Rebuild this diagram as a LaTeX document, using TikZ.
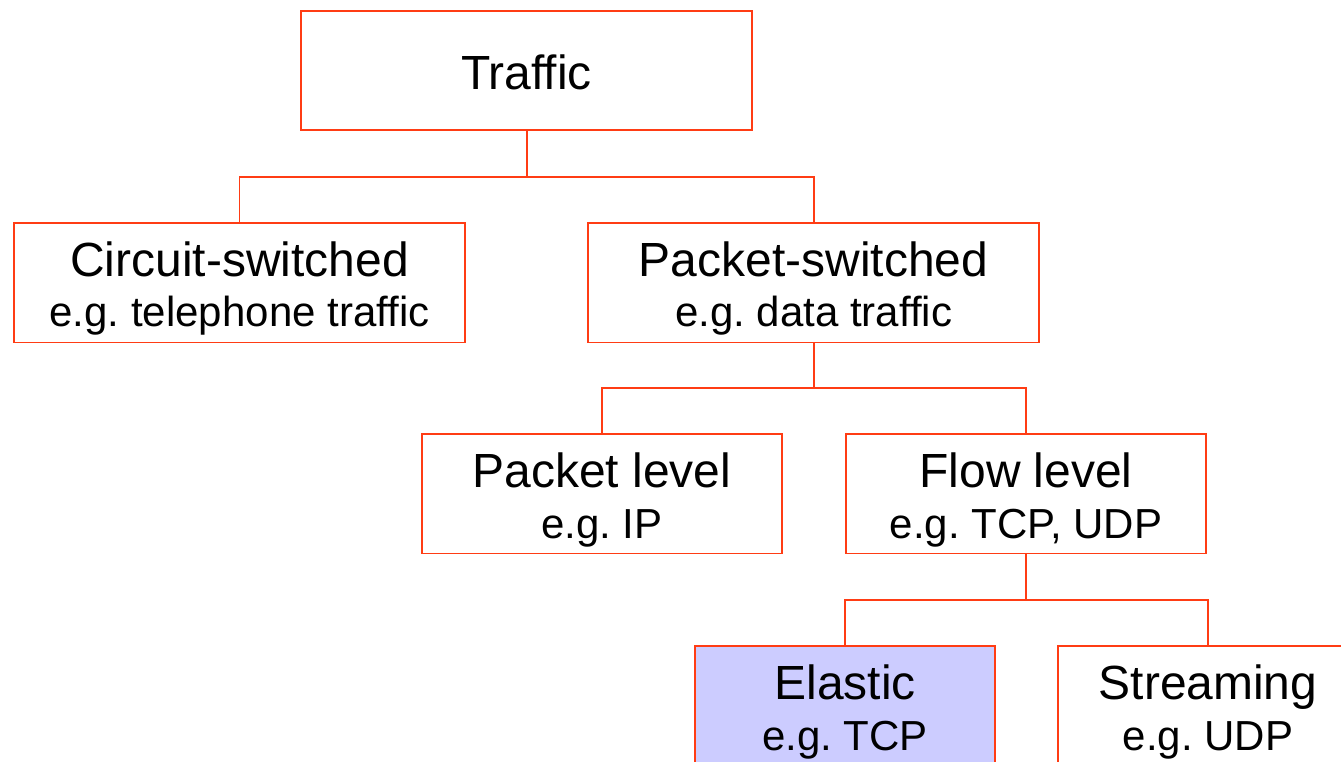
\documentclass[tikz,border=0pt]{standalone}
\usepackage{fontspec}
\setmainfont{Liberation Sans}
\usetikzlibrary{positioning}
\definecolor{boxred}{RGB}{255,60,20}
\definecolor{elasticblue}{RGB}{204,204,255}
\newcommand{\hdline}[1]{{\fontsize{27.3}{29}\selectfont #1}}
\frenchspacing

\begin{document}
\begin{tikzpicture}[x=0.02cm, y=-0.02cm, line width=1.13pt]
   \tikzstyle{tnode}=[rectangle, draw=boxred, fill=white, align=center, minimum height=2.4cm, inner sep=0pt, text height=2.08cm, text depth=0.3cm, font=\fontsize{23.9}{29}\selectfont]
   \tikzstyle{wnode}=[tnode, minimum width=9.02cm]
   \tikzstyle{mnode}=[tnode, minimum width=7.2cm]
   \tikzstyle{nnode}=[tnode, minimum width=6.0cm]
   \tikzstyle{link}=[draw=boxred]

   \useasboundingbox (0,0) rectangle (1341,761);
   \clip (0,0) rectangle (1341,761);

   % top level
   \draw (526.5,70.5) node[wnode, text height=0.9cm, text depth=0.12cm] (traffic) {\hdline{Traffic}};
   % switching
   \draw (239.5,282.5) node[wnode] (circuit) {\hdline{Circuit-switched}\\e.g. telephone traffic};
   \draw (813.5,282.5) node[wnode] (packetsw) {\hdline{Packet-switched}\\e.g. data traffic};
   % level
   \draw (602,493.5) node[mnode] (packetlvl) {\hdline{Packet level}\\e.g. IP};
   \draw (1026,493.5) node[mnode] (flowlvl) {\hdline{Flow level}\\e.g. TCP, UDP};
   % flow types
   \draw (845,705.5) node[nnode, fill=elasticblue] (elastic) {\hdline{Elastic}\\e.g. TCP};
   \draw (1208,705.5) node[nnode] (streaming) {\hdline{Streaming}\\e.g. UDP};

   % junctions
   \coordinate (j1) at (526.5,177);
   \coordinate (j2) at (813.5,388);
   \coordinate (j3) at (1026,599.5);

   % traffic connections
   \draw[link] (traffic) -- (j1) -| (circuit);
   \draw[link] (j1) -| (packetsw);
   % packet-switched connections
   \draw[link] (packetsw) -- (j2) -| (packetlvl);
   \draw[link] (j2) -| (flowlvl);
   % flow level connections
   \draw[link] (flowlvl) -- (j3) -| (elastic);
   \draw[link] (j3) -| (streaming);
\end{tikzpicture}
\end{document}
